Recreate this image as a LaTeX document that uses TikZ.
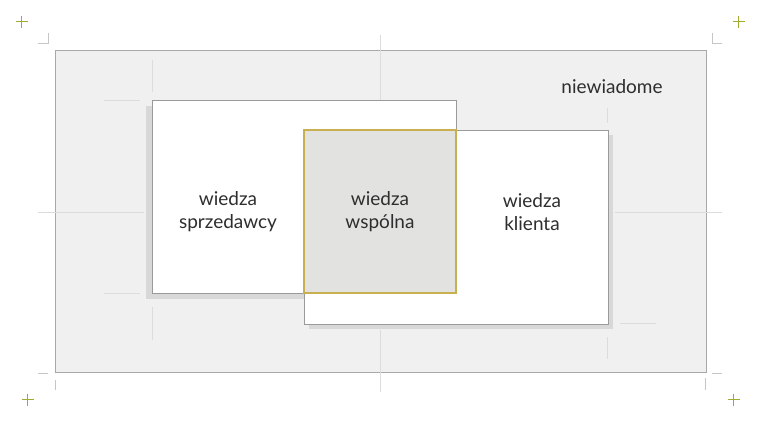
\documentclass[tikz,border=0pt]{standalone}
\usepackage{fontspec}
\setmainfont{Lato}
\usetikzlibrary{positioning}
\definecolor{panelgray}{HTML}{F0F0F0}
\definecolor{framegray}{HTML}{A8A8A8}
\definecolor{boxgray}{HTML}{9A9A9A}
\definecolor{shadowgray}{HTML}{D8D8D8}
\definecolor{guidegray}{HTML}{DCDCDC}
\definecolor{commonfill}{HTML}{E2E2E0}
\definecolor{olive}{HTML}{C8B050}
\definecolor{crossgreen}{HTML}{A0AC30}
\definecolor{textgray}{HTML}{2E2E2E}

\begin{document}
\begin{tikzpicture}[x=1pt,y=-1pt,line width=1pt,
  guide/.style={draw=guidegray,line width=1pt},
  cornermark/.style={draw=guidegray!90!black,line width=0.8pt},
  cross/.style={draw=crossgreen,line width=1pt},
  label/.style={text=textgray,align=center,font=\fontsize{19}{23}\selectfont}]
\useasboundingbox (0,0) rectangle (760,424);
% corner marks and crosses
\foreach \x/\y in {21.5/21.5,738.5/21.5,27.5/399.5,733.5/399.5}
  \draw[cross] (\x-6,\y) -- (\x+6,\y) (\x,\y-6) -- (\x,\y+6);
\draw[cornermark] (48,33) -- (48,43) -- (38,43);
\draw[cornermark] (712,33) -- (712,43) -- (722,43);
\draw[cornermark] (38,373) -- (48,373) (55,380) -- (55,390);
\draw[cornermark] (712,373) -- (722,373) (705,378) -- (705,390);
% outer panel
\draw[draw=framegray,fill=panelgray] (55,50) rectangle (706,372);
% guide lines
\draw[guide] (380,35) -- (380,100);
\draw[guide] (380,330) -- (380,392);
\draw[guide] (38,212) -- (144,212);
\draw[guide] (615,212) -- (722,212);
\draw[guide] (152,60) -- (152,92) (104,100) -- (140,100);
\draw[guide] (104,293) -- (140,293) (152,307) -- (152,340);
\draw[guide] (607,108) -- (607,123);
\draw[guide] (620,323) -- (656,323) (607,337) -- (607,359);
% seller box
\fill[shadowgray] (146,106) rectangle (450,299);
\draw[draw=boxgray,fill=white] (152,100) rectangle (456,293);
% client box
\fill[shadowgray] (309,135) rectangle (613,329);
\draw[draw=boxgray,fill=white] (304,130) rectangle (608,324);
% common part
\draw[draw=olive,fill=commonfill,line width=1.2pt] (304,130) rectangle (456,293);
% labels
\node[label] (seller) at (228,212) {wiedza\\sprzedawcy};
\node[label] (common) at (380,212) {wiedza\\wspólna};
\node[label] (client) at (532,212) {wiedza\\klienta};
\node[label] (unknown) at (612,87) {niewiadome};
\end{tikzpicture}
\end{document}
